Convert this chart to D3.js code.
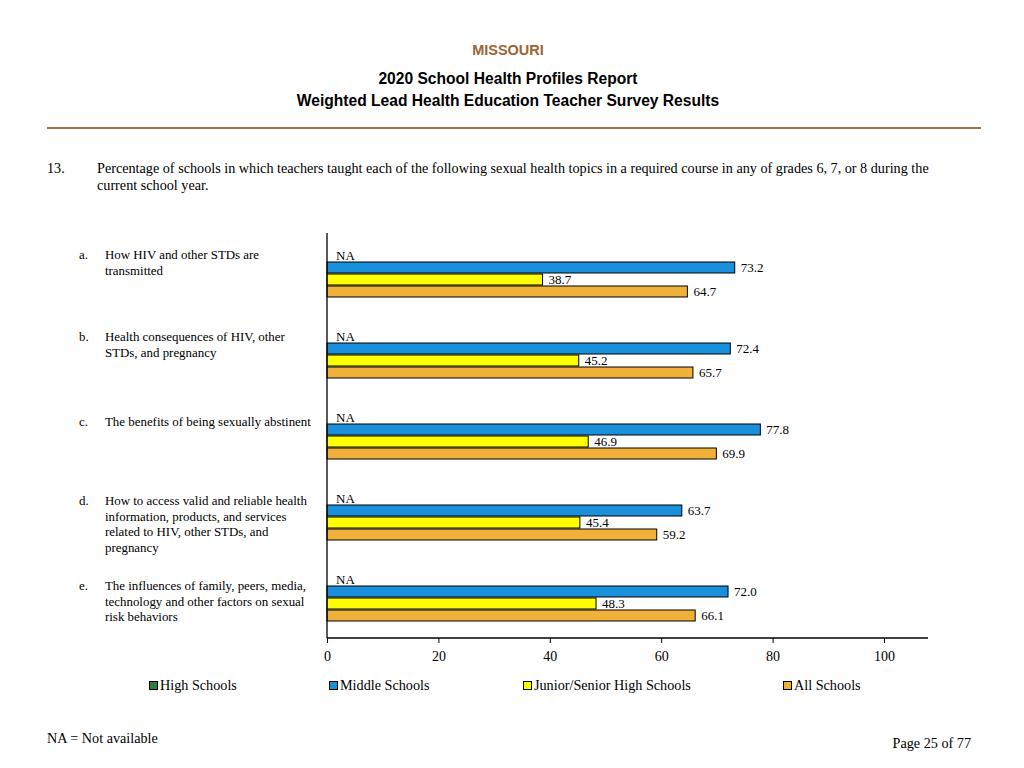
<!DOCTYPE html>
<html><head><meta charset="utf-8">
<script src="https://cdn.jsdelivr.net/npm/d3@7"></script>
<style>body{margin:0;background:#fff}svg{display:block}</style>
</head><body>
<script>
const categories = ["a.", "b.", "c.", "d.", "e."];
const categoryLabels = [
  ["How HIV and other STDs are", "transmitted"],
  ["Health consequences of HIV, other", "STDs, and pregnancy"],
  ["The benefits of being sexually abstinent"],
  ["How to access valid and reliable health", "information, products, and services", "related to HIV, other STDs, and", "pregnancy"],
  ["The influences of family, peers, media,", "technology and other factors on sexual", "risk behaviors"]
];
const seriesNames = ["High Schools", "Middle Schools", "Junior/Senior High Schools", "All Schools"];
const highSchools = [null, null, null, null, null];
const middleSchools = [73.2, 72.4, 77.8, 63.7, 72.0];
const juniorSenior = [38.7, 45.2, 46.9, 45.4, 48.3];
const allSchools = [64.7, 65.7, 69.9, 59.2, 66.1];
const tickValues = [0, 20, 40, 60, 80, 100];
const colors = ["#2e7d3e", "#1a8fdb", "#ffff00", "#efb13a"];

const W = 1024, H = 768;
const svg = d3.select("body").append("svg").attr("width", W).attr("height", H);
const serif = "'Liberation Serif','Times New Roman',serif";
const sans = "'Liberation Sans',Arial,sans-serif";

// Header
svg.append("text").attr("x", 508).attr("y", 55).attr("text-anchor", "middle")
  .attr("font-family", sans).attr("font-weight", "bold").attr("font-size", 14.5).attr("fill", "#9c6535").text("MISSOURI");
svg.append("text").attr("x", 508).attr("y", 84).attr("text-anchor", "middle")
  .attr("font-family", sans).attr("font-weight", "bold").attr("font-size", 15.6).attr("fill", "#000").text("2020 School Health Profiles Report");
svg.append("text").attr("x", 508).attr("y", 106).attr("text-anchor", "middle")
  .attr("font-family", sans).attr("font-weight", "bold").attr("font-size", 15.6).attr("fill", "#000").text("Weighted Lead Health Education Teacher Survey Results");
svg.append("line").attr("x1", 47).attr("x2", 981).attr("y1", 128).attr("y2", 128)
  .attr("stroke", "#a0724a").attr("stroke-width", 2);

// Question
svg.append("text").attr("x", 47).attr("y", 173).attr("font-family", serif).attr("font-size", 14.2).text("13.");
svg.append("text").attr("x", 97).attr("y", 173).attr("font-family", serif).attr("font-size", 14.2)
  .text("Percentage of schools in which teachers taught each of the following sexual health topics in a required course in any of grades 6, 7, or 8 during the");
svg.append("text").attr("x", 97).attr("y", 190).attr("font-family", serif).attr("font-size", 14.2).text("current school year.");

// Scales
const x = d3.scaleLinear().domain([0, 100]).range([327, 884]);
const y = d3.scaleBand().domain(categories).range([233, 638]);
const inner = d3.scaleBand().domain(seriesNames).range([16.5, 64.5]);
const series = [highSchools, middleSchools, juniorSenior, allSchools];
const labelDy = [26, 27, 31, 29, 33];

const g = svg.append("g");
categories.forEach((c, i) => {
  const grp = g.append("g").attr("transform", `translate(0,${y(c)})`);
  series.forEach((s, j) => {
    const v = s[i];
    const by = inner(seriesNames[j]);
    if (v != null) {
      grp.append("rect").attr("x", x(0)).attr("y", by + 0.5)
        .attr("width", x(v) - x(0)).attr("height", inner.bandwidth() - 1)
        .attr("fill", colors[j]).attr("stroke", "#000").attr("stroke-width", 1);
    }
    grp.append("text").attr("x", v != null ? x(v) + 6 : x(0) + 9)
      .attr("y", by + inner.bandwidth() / 2 + 4.5)
      .attr("font-family", serif).attr("font-size", 13).attr("fill", "#000")
      .text(v != null ? v.toFixed(1) : "NA");
  });
  const ly = y(c) + labelDy[i];
  svg.append("text").attr("x", 79).attr("y", ly).attr("font-family", serif).attr("font-size", 12.9).text(c);
  categoryLabels[i].forEach((line, k) => {
    svg.append("text").attr("x", 105).attr("y", ly + k * 15.6).attr("font-family", serif).attr("font-size", 12.9).text(line);
  });
});

// Axes
svg.append("line").attr("x1", x(0)).attr("x2", x(0)).attr("y1", 233).attr("y2", 638).attr("stroke", "#000").attr("stroke-width", 1.3);
const xAxis = svg.append("g").attr("transform", "translate(0,638)")
  .call(d3.axisBottom(x).tickValues(tickValues).tickSize(5).tickPadding(8).tickSizeOuter(0));
xAxis.select(".domain").remove();
xAxis.append("line").attr("x1", x(0)).attr("x2", 928).attr("y1", 0).attr("y2", 0).attr("stroke", "#000").attr("stroke-width", 1.3);
xAxis.selectAll("text").attr("font-family", serif).attr("font-size", 14).attr("fill", "#000");
xAxis.selectAll(".tick line").attr("stroke", "#000");

// Legend
const legendX = [149, 329, 523, 783];
seriesNames.forEach((n, j) => {
  svg.append("rect").attr("x", legendX[j] + 0.5).attr("y", 681.5).attr("width", 8).attr("height", 8)
    .attr("fill", colors[j]).attr("stroke", "#000").attr("stroke-width", 1);
  svg.append("text").attr("x", legendX[j] + 11).attr("y", 690).attr("font-family", serif).attr("font-size", 14.2).text(n);
});

// Footer
svg.append("text").attr("x", 47).attr("y", 743).attr("font-family", serif).attr("font-size", 14.2).text("NA = Not available");
svg.append("text").attr("x", 971).attr("y", 748).attr("text-anchor", "end").attr("font-family", serif).attr("font-size", 14.2).text("Page 25 of 77");
</script>
</body></html>
